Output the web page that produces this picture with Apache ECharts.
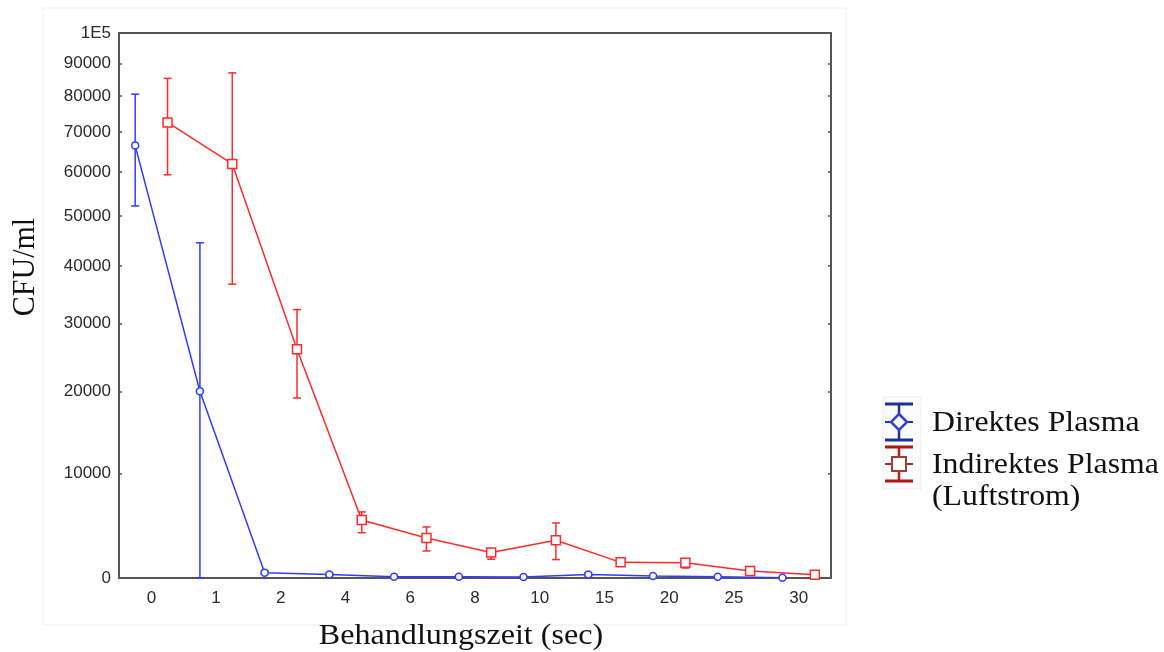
<!DOCTYPE html>
<html>
<head>
<meta charset="utf-8">
<script src="https://cdn.jsdelivr.net/npm/echarts@6/dist/echarts.min.js"></script>
<style>
html,body{margin:0;padding:0;background:#fff;}
#chart{width:1164px;height:652px;}
</style>
</head>
<body>
<div id="chart"></div>
<script>
// ---- data ----
const categories = ['0','1','2','4','6','8','10','15','20','25','30'];
const yTickValues = [0,10000,20000,30000,40000,50000,60000,70000,80000,90000,100000];
const yTickLabels = ['0','10000','20000','30000','40000','50000','60000','70000','80000','90000','1E5'];

const direkt     = [66500, 20000, 450, 300, 100, 100,  80, 300, 170, 100, 30];
const direktLow  = [52200,     0, 320, 200,  50,  50,  30, 180,  90,  50, 10];
const direktHigh = [80600, 44500, 600, 420, 150, 150, 130, 430, 250, 150, 60];

const indirekt     = [72600, 61900, 26000, 5200, 3500, 2200, 3300, 1330, 1300, 590, 280];
const indirektLow  = [59300, 36700, 19100, 4000, 2330, 1600, 1570, 1250,  840, 420, 200];
const indirektHigh = [85300, 87000, 32300, 6000, 4540, 2540, 4920, 1420, 1600, 760, 360];

const seriesNames = ['Direktes Plasma', 'Indirektes Plasma (Luftstrom)'];

// ---- axis transform (reference uses a compressed log-like y scale) ----
const C = 32000;
const T = v => Math.log(1 + v / C);

const BLUE = '#2f3cff';
const RED = '#ff2a2a';
const AXIS = '#555555';
const OFF = 0.25;

function linePts(vals, off){ return vals.map((v,i)=>[i+off, T(v)]); }
function errPts(lo, hi, off){ return lo.map((l,i)=>[i+off, T(l), T(hi[i])]); }

function errRender(color){
  return function(params, api){
    const x = api.value(0);
    const p1 = api.coord([x, api.value(1)]);
    const p2 = api.coord([x, api.value(2)]);
    const h = 4;
    const st = {stroke: color, lineWidth: 1.5};
    return {type:'group', children:[
      {type:'line', shape:{x1:p1[0], y1:p1[1], x2:p2[0], y2:p2[1]}, style:st},
      {type:'line', shape:{x1:p1[0]-h, y1:p1[1], x2:p1[0]+h, y2:p1[1]}, style:st},
      {type:'line', shape:{x1:p2[0]-h, y1:p2[1], x2:p2[0]+h, y2:p2[1]}, style:st}
    ]};
  };
}

const yTickT = yTickValues.map(T);
function yLabel(val){
  for (let i=0;i<yTickT.length;i++){ if (Math.abs(yTickT[i]-val) < 1e-9) return yTickLabels[i]; }
  return '';
}

const chart = echarts.init(document.getElementById('chart'), null, {renderer:'canvas'});
const labelFont = {fontFamily:'Liberation Sans', fontSize:17, color:'#2a2a2a'};
const grid = {left:119, top:33, right:333, bottom:74};

const option = {
  animation:false,
  backgroundColor:'#fff',
  grid: grid,
  xAxis: [
    {type:'category', data:categories, position:'bottom', boundaryGap:true,
     axisLine:{onZero:false, lineStyle:{color:AXIS, width:2}},
     axisTick:{inside:true, length:3, alignWithLabel:true, interval:0, lineStyle:{color:AXIS, width:1.5}},
     axisLabel:Object.assign({margin:12, interval:0}, labelFont),
     splitLine:{show:false}},
    {type:'category', data:categories, position:'top', boundaryGap:true,
     axisLine:{onZero:false, lineStyle:{color:AXIS, width:2}},
     axisTick:{inside:true, length:3, alignWithLabel:true, interval:0, lineStyle:{color:AXIS, width:1.5}},
     axisLabel:{show:false}, splitLine:{show:false}},
    {type:'value', min:-0.5, max:categories.length-0.5, show:false}
  ],
  yAxis: [
    {type:'value', min:0, max:T(100000), position:'left',
     axisLine:{show:true, onZero:false, lineStyle:{color:AXIS, width:2}},
     axisTick:{show:true, inside:true, length:3, customValues:yTickT, lineStyle:{color:AXIS, width:1.5}},
     axisLabel:Object.assign({customValues:yTickT, formatter:yLabel, margin:8}, labelFont),
     splitLine:{show:false}},
    {type:'value', min:0, max:T(100000), position:'right',
     axisLine:{show:true, onZero:false, lineStyle:{color:AXIS, width:2}},
     axisTick:{show:true, inside:true, length:3, customValues:yTickT, lineStyle:{color:AXIS, width:1.5}},
     axisLabel:{show:false}, splitLine:{show:false}}
  ],
  series: [
    {name:seriesNames[0]+' err', type:'custom', xAxisIndex:2, yAxisIndex:0,
     renderItem:errRender(BLUE), data:errPts(direktLow, direktHigh, -OFF), z:2, silent:true},
    {name:seriesNames[1]+' err', type:'custom', xAxisIndex:2, yAxisIndex:0,
     renderItem:errRender(RED), data:errPts(indirektLow, indirektHigh, OFF), z:2, silent:true},
    {name:seriesNames[0], type:'line', xAxisIndex:2, yAxisIndex:0,
     data:linePts(direkt, -OFF), symbol:'circle', symbolSize:7, showSymbol:true,
     lineStyle:{color:BLUE, width:1.5}, itemStyle:{color:'#fff', borderColor:BLUE, borderWidth:1.5}, z:3},
    {name:seriesNames[1], type:'line', xAxisIndex:2, yAxisIndex:0,
     data:linePts(indirekt, OFF), symbol:'rect', symbolSize:9, showSymbol:true,
     lineStyle:{color:RED, width:1.5}, itemStyle:{color:'#fff', borderColor:RED, borderWidth:1.5}, z:3}
  ],
  graphic: [
    // faint outer frame
    {type:'rect', shape:{x:43, y:8, width:803, height:617}, style:{fill:'none', stroke:'#efefef', lineWidth:1}, z:-10},
    // axis titles
    {type:'text', x:461, y:636, scaleX:1.07, style:{x:0, y:0, text:'Behandlungszeit (sec)', fontFamily:'Liberation Serif', fontSize:30, fill:'#111', align:'center', verticalAlign:'middle'}},
    {type:'text', x:26, y:267, rotation:Math.PI/2, scaleY:1.07, style:{x:0, y:0, text:'CFU/ml', fontFamily:'Liberation Serif', fontSize:30, fill:'#111', align:'center', verticalAlign:'middle'}},
    // legend box
    {type:'rect', shape:{x:883, y:397, width:38, height:92}, style:{fill:'#fbfbfb', stroke:'#eeeeee', lineWidth:1}},
    // legend icon blue
    {type:'group', x:899, y:422, children:[
      {type:'line', shape:{x1:0,y1:-18,x2:0,y2:18}, style:{stroke:'#1f2f9a', lineWidth:2.5}},
      {type:'line', shape:{x1:-14,y1:-18,x2:14,y2:-18}, style:{stroke:'#1f2f9a', lineWidth:3}},
      {type:'line', shape:{x1:-14,y1:18,x2:14,y2:18}, style:{stroke:'#1f2f9a', lineWidth:3}},
      {type:'line', shape:{x1:-14,y1:0,x2:14,y2:0}, style:{stroke:'#2233bb', lineWidth:2}},
      {type:'polygon', shape:{points:[[0,-8],[8,0],[0,8],[-8,0]]}, style:{fill:'#fff', stroke:'#3040d0', lineWidth:2.5}}
    ]},
    // legend icon red
    {type:'group', x:899, y:464, children:[
      {type:'line', shape:{x1:0,y1:-17,x2:0,y2:17}, style:{stroke:'#c01818', lineWidth:2.5}},
      {type:'line', shape:{x1:-14,y1:-17,x2:14,y2:-17}, style:{stroke:'#b01515', lineWidth:3}},
      {type:'line', shape:{x1:-14,y1:17,x2:14,y2:17}, style:{stroke:'#b01515', lineWidth:3}},
      {type:'line', shape:{x1:-14,y1:0,x2:14,y2:0}, style:{stroke:'#a03030', lineWidth:2}},
      {type:'rect', shape:{x:-7,y:-7,width:14,height:14}, style:{fill:'#fff', stroke:'#a33a3a', lineWidth:2}}
    ]},
    // legend texts
    {type:'text', x:932, y:423, scaleX:1.06, style:{x:0,y:0,text:'Direktes Plasma', fontFamily:'Liberation Serif', fontSize:30, fill:'#111', align:'left', verticalAlign:'middle'}},
    {type:'text', x:932, y:465, scaleX:1.06, style:{x:0,y:0,text:'Indirektes Plasma', fontFamily:'Liberation Serif', fontSize:30, fill:'#111', align:'left', verticalAlign:'middle'}},
    {type:'text', x:932, y:497, scaleX:1.06, style:{x:0,y:0,text:'(Luftstrom)', fontFamily:'Liberation Serif', fontSize:30, fill:'#111', align:'left', verticalAlign:'middle'}}
  ]
};
chart.setOption(option);
</script>
</body>
</html>
